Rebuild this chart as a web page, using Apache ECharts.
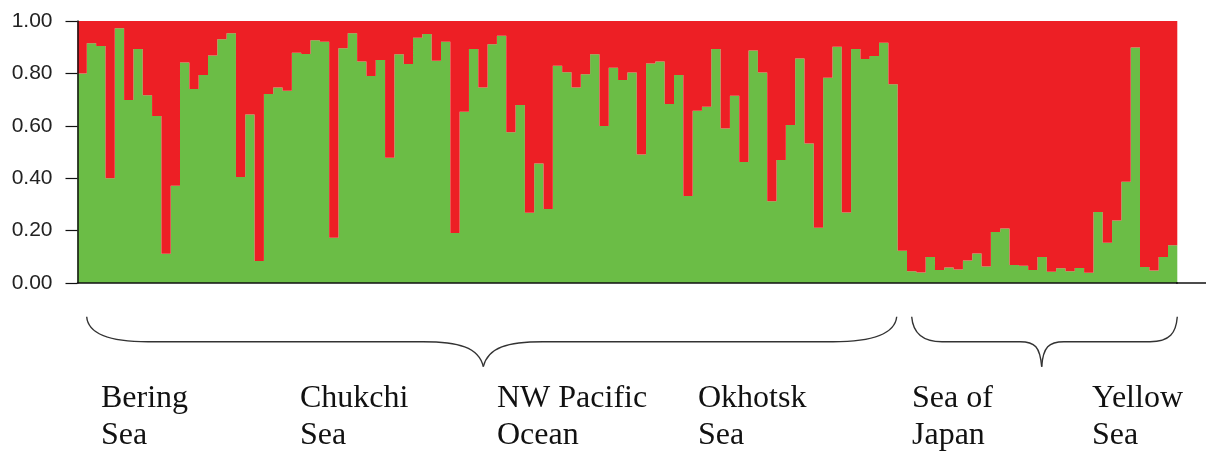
<!DOCTYPE html>
<html>
<head>
<meta charset="utf-8">
<script src="https://cdn.jsdelivr.net/npm/echarts@6/dist/echarts.min.js"></script>
<style>
html,body{margin:0;padding:0;background:#fff;}
#chart{width:1214px;height:452px;}
</style>
</head>
<body>
<div id="chart"></div>
<script>
// Membership proportion of each individual in cluster 1 (green); the remainder is cluster 2 (red)
const cluster1 = [
  0.80, 0.915, 0.905, 0.40, 0.972, 0.698, 0.893, 0.717, 0.637, 0.112,
  0.371, 0.842, 0.740, 0.794, 0.868, 0.930, 0.953, 0.405, 0.643, 0.084,
  0.721, 0.746, 0.734, 0.879, 0.874, 0.927, 0.921, 0.173, 0.896, 0.953,
  0.845, 0.790, 0.851, 0.478, 0.873, 0.836, 0.936, 0.950, 0.848, 0.921,
  0.191, 0.654, 0.893, 0.746, 0.911, 0.944, 0.575, 0.679, 0.268, 0.456,
  0.282, 0.829, 0.804, 0.746, 0.797, 0.873, 0.599, 0.822, 0.775, 0.803,
  0.490, 0.838, 0.845, 0.683, 0.794, 0.332, 0.657, 0.673, 0.893, 0.590,
  0.715, 0.462, 0.887, 0.803, 0.312, 0.469, 0.603, 0.857, 0.532, 0.211,
  0.783, 0.902, 0.269, 0.893, 0.855, 0.866, 0.917, 0.759, 0.123, 0.045,
  0.040, 0.099, 0.050, 0.059, 0.052, 0.086, 0.113, 0.063, 0.195, 0.208,
  0.069, 0.066, 0.050, 0.099, 0.043, 0.056, 0.045, 0.057, 0.039, 0.271,
  0.154, 0.239, 0.386, 0.899, 0.061, 0.048, 0.099, 0.144
];
const individuals = cluster1.map((_, i) => String(i + 1));
const cluster2 = cluster1.map(v => +(1 - v).toFixed(3));
const yTicks = [0, 0.2, 0.4, 0.6, 0.8, 1.0];
const regionLabels = [
  ["Bering", "Sea"],
  ["Chukchi", "Sea"],
  ["NW Pacific", "Ocean"],
  ["Okhotsk", "Sea"],
  ["Sea of", "Japan"],
  ["Yellow", "Sea"]
];
const regionLabelX = [101, 300, 497, 698, 912, 1092];

const GREEN = '#6BBD46';
const RED = '#ED1F25';

const chart = echarts.init(document.getElementById('chart'), null, {renderer: 'canvas'});

const graphics = [];
// extension of the x axis line to the right
graphics.push({
  type: 'line', z: 10,
  shape: {x1: 1176, y1: 283, x2: 1206, y2: 283},
  style: {stroke: '#111', lineWidth: 1.5}
});
// braces, built from curve and line pieces
const braceStyle = {stroke: '#333', lineWidth: 1.4, fill: null};
function curve(x1, y1, cpx1, cpy1, cpx2, cpy2, x2, y2) {
  graphics.push({type: 'bezierCurve',
    shape: {x1, y1, cpx1, cpy1, cpx2, cpy2, x2, y2}, style: braceStyle});
}
function seg(x1, y1, x2, y2) {
  graphics.push({type: 'line', shape: {x1, y1, x2, y2}, style: braceStyle});
}
const BY = 341.7, BT = 316.7, BP = 366.7;
// brace 1
curve(86.7, BT, 88, 333, 108, BY, 148, BY);
seg(148, BY, 423, BY);
curve(423, BY, 458, BY, 479, 347, 483.3, BP);
curve(483.3, BP, 488, 347, 508, BY, 543, BY);
seg(543, BY, 833, BY);
curve(833, BY, 875, BY, 895, 333, 896.7, BT);
// brace 2
curve(911.7, BT, 913, 333, 922, BY, 942, BY);
seg(942, BY, 1020, BY);
curve(1020, BY, 1035, BY, 1040, 347, 1041.7, BP);
curve(1041.7, BP, 1043, 347, 1049, BY, 1064, BY);
seg(1064, BY, 1150, BY);
curve(1150, BY, 1170, BY, 1176, 333, 1177.3, BT);

regionLabels.forEach((lines, i) => {
  graphics.push({
    type: 'text',
    x: regionLabelX[i], y: 417.5,
    style: {
      text: lines.join('\n'),
      font: '32px "Liberation Serif", "Times New Roman", serif',
      lineHeight: 37,
      fill: '#111',
      align: 'left',
      verticalAlign: 'middle'
    }
  });
});

chart.setOption({
  animation: false,
  backgroundColor: '#fff',
  grid: {left: 77.5, right: 36.7, top: 21, bottom: 169, containLabel: false},
  xAxis: {
    type: 'category',
    data: individuals,
    boundaryGap: true,
    axisLine: {show: true, lineStyle: {color: '#111', width: 1.5}},
    axisTick: {show: false},
    axisLabel: {show: false},
    splitLine: {show: false},
    z: 10
  },
  yAxis: {
    type: 'value',
    min: 0, max: 1, interval: 0.2,
    axisLine: {show: true, lineStyle: {color: '#111', width: 1.5}},
    axisTick: {show: true, length: 12, inside: false, lineStyle: {color: '#111', width: 1.2}},
    axisLabel: {
      margin: 25,
      color: '#222',
      fontFamily: '"Liberation Sans", Arial, sans-serif',
      fontSize: 21,
      padding: [0, 0, 7, 0],
      formatter: v => {
        const t = yTicks.find(x => Math.abs(x - v) < 1e-9);
        return (t === undefined ? v : t).toFixed(2);
      }
    },
    splitLine: {show: false},
    z: 10
  },
  series: [
    {
      name: 'Cluster 1',
      type: 'bar',
      stack: 'q',
      data: cluster1,
      barCategoryGap: '0%',
      large: true,
      largeThreshold: 10,
      itemStyle: {color: GREEN},
      emphasis: {disabled: true}
    },
    {
      name: 'Cluster 2',
      type: 'bar',
      stack: 'q',
      data: cluster2,
      barCategoryGap: '0%',
      large: true,
      largeThreshold: 10,
      itemStyle: {color: RED},
      emphasis: {disabled: true}
    }
  ],
  graphic: graphics
});
</script>
</body>
</html>
